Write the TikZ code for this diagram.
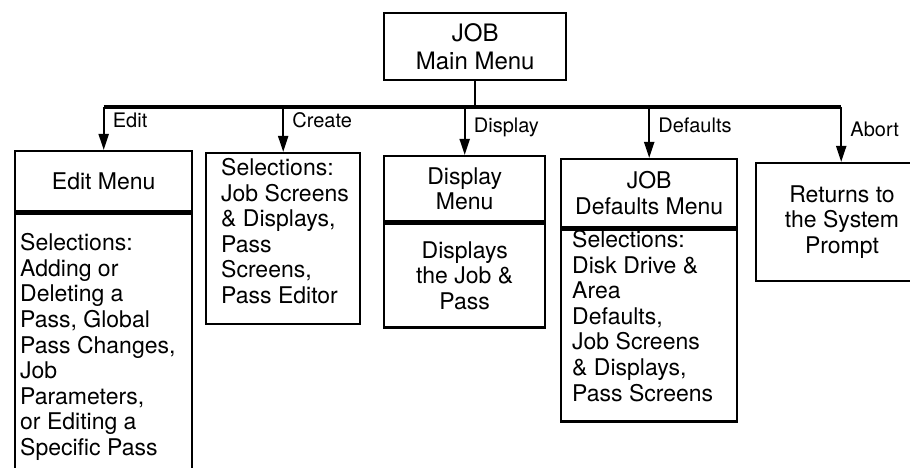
\documentclass[tikz,border=0pt]{standalone}
\usepackage{fontspec}
\setmainfont{TeX Gyre Heros}
\usetikzlibrary{arrows.meta}
\begin{document}
\begin{tikzpicture}[x=1pt,y=-1pt,
  box/.style={draw, line width=2.4pt, inner sep=0pt, anchor=north west, align=center,
              font=\fontsize{23}{25.6}\selectfont},
  body/.style={inner sep=0pt, align=left, anchor=west, font=\fontsize{23}{25.6}\selectfont},
  ctext/.style={inner sep=0pt, align=center, font=\fontsize{23}{25.6}\selectfont},
  lbl/.style={inner sep=0pt, anchor=base west, font=\fontsize{20}{24}\selectfont},
  drop/.style={line width=2pt, -{Triangle[length=16pt,width=10pt]}},
  bus/.style={line width=3.2pt},
  stem/.style={line width=2pt}]
\useasboundingbox (0,0) rectangle (910,468);

% main menu
\node[box, minimum width=182, minimum height=67, font=\fontsize{24}{28}\selectfont] (main) at (383,12) {JOB\\Main Menu};

% edit
\node[box, minimum width=177, minimum height=60] (edt) at (14,150) {Edit Menu};
\node[box, minimum width=177, minimum height=270, anchor=north] (edb) at (edt.south) {};
\node[body] (edbx) at (20,347) {Selections:\\Adding or\\Deleting a\\Pass, Global\\Pass Changes,\\Job\\Parameters,\\or Editing a\\Specific Pass};

% create
\node[box, minimum width=154, minimum height=171] (cre) at (205,152) {};
\node[body] (crex) at (221,231) {Selections:\\Job Screens\\\& Displays,\\Pass\\Screens,\\Pass Editor};

% display
\node[box, minimum width=161, minimum height=65] (dst) at (383,155) {Display\\Menu};
\node[box, minimum width=161, minimum height=104, anchor=north] (dsb) at (dst.south) {};
\node[ctext] (dsbx) at (dsb.center) {Displays\\the Job \&\\Pass};

% defaults
\node[box, minimum width=176, minimum height=68] (dft) at (560,158) {JOB\\Defaults Menu};
\node[box, minimum width=176, minimum height=192, anchor=north] (dfb) at (dft.south) {};
\node[body] (dfbx) at (572,316) {Selections:\\Disk Drive \&\\Area\\Defaults,\\Job Screens\\\& Displays,\\Pass Screens};

% abort
\node[box, minimum width=170, minimum height=118] (abt) at (755,162) {};
\node[ctext] (abtx) at (842,222) {Returns to\\the System\\Prompt};

% connectors
\coordinate (busL) at (edt.north |- 0,107);
\coordinate (busR) at (abt.north |- 0,107);
\draw[stem] (main.south) -- (main.south |- busL);
\draw[bus] (busL) -- (busR);
\foreach \n/\t/\b in {edt/Edit/128, cre/Create/128, dst/Display/132, dft/Defaults/133, abt/Abort/137} {
  \draw[drop] (\n.north |- busL) -- (\n.north);
  \path (\n.north |- 0,\b) ++(9,0) node[lbl] (l\n) {\t};
}
\end{tikzpicture}
\end{document}
